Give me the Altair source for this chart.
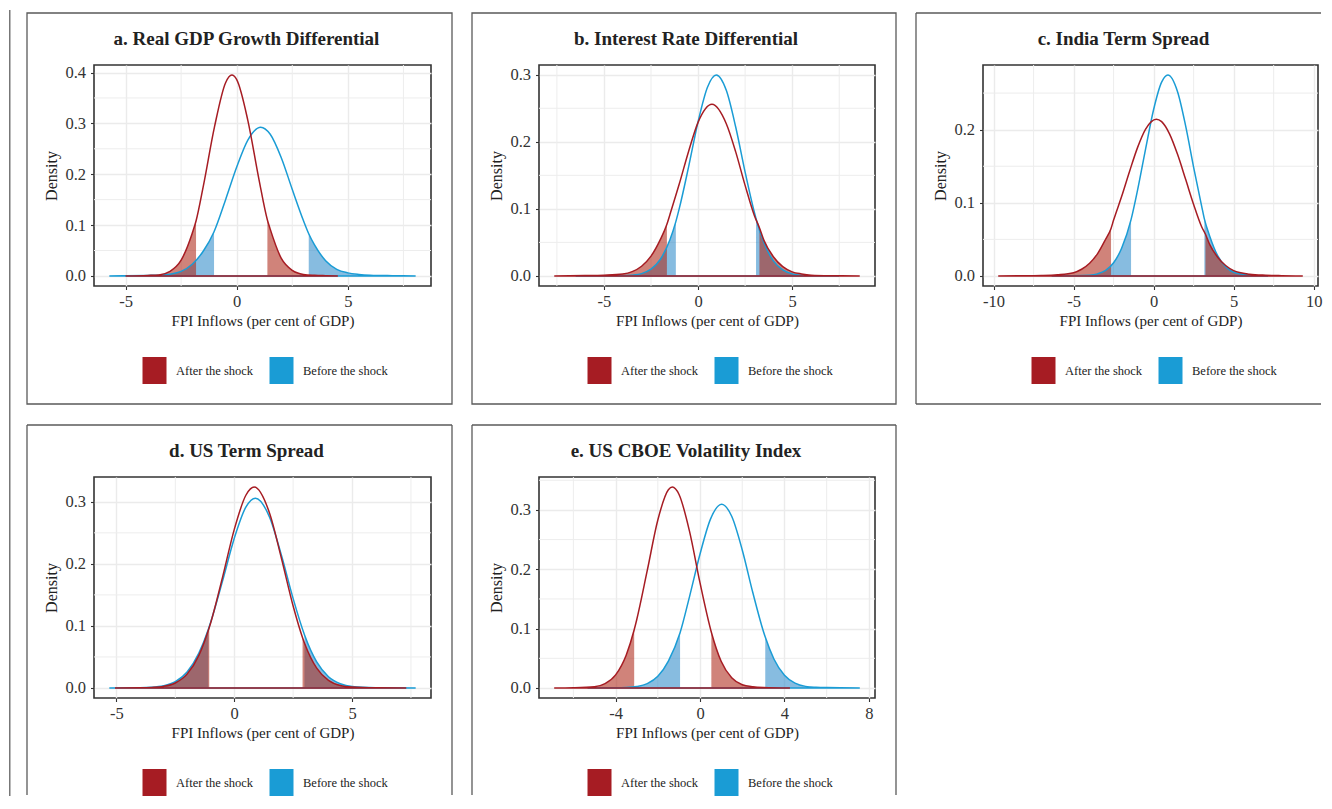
import altair as alt
import pandas as pd

FONT = "Liberation Serif"
SERIES = ["After the shock", "Before the shock"]
LINE_COLORS = ["#A61C23", "#1A9CD5"]
FILL_COLORS = ["#AE2A1A", "#308CCA"]

# ---------------- a. Real GDP Growth Differential ----------------
A_AFTER_X = [-5.0, -4.0, -3.5, -3.0, -2.5, -2.0, -1.83, -1.5, -1.0, -0.5, -0.22, 0.0, 0.5, 1.0, 1.38, 1.5, 2.0, 2.5, 3.0, 3.5, 4.0, 4.55]
A_AFTER_Y = [0.0, 0.001, 0.002, 0.009, 0.031, 0.084, 0.108, 0.177, 0.293, 0.380, 0.395, 0.386, 0.306, 0.190, 0.110, 0.093, 0.035, 0.011, 0.003, 0.0012, 0.0005, 0.0]
A_AFTER_TAILS = [-1.83, 1.38]
A_BEFORE_X = [-5.73, -5.0, -4.0, -3.5, -3.0, -2.5, -2.0, -1.5, -1.02, -0.5, 0.0, 0.5, 1.08, 1.5, 2.0, 2.5, 3.0, 3.24, 3.5, 4.0, 4.5, 5.0, 5.5, 6.0, 7.0, 8.05]
A_BEFORE_Y = [0.0, 0.0003, 0.001, 0.0015, 0.0035, 0.009, 0.023, 0.049, 0.087, 0.150, 0.214, 0.267, 0.2925, 0.279, 0.233, 0.170, 0.109, 0.083, 0.061, 0.030, 0.013, 0.006, 0.003, 0.0015, 0.0005, 0.0]
A_BEFORE_TAILS = [-1.02, 3.24]

# ---------------- b. Interest Rate Differential ----------------
B_AFTER_X = [-7.64, -6.0, -5.0, -4.0, -3.5, -3.0, -2.5, -2.0, -1.655, -1.5, -1.0, -0.5, 0.0, 0.74, 1.5, 2.0, 2.5, 3.0, 3.26, 3.5, 4.0, 4.5, 5.0, 5.5, 6.0, 7.0, 8.59]
B_AFTER_Y = [0.0, 0.0005, 0.0012, 0.003, 0.0065, 0.0145, 0.0295, 0.0545, 0.077, 0.091, 0.137, 0.186, 0.229, 0.256, 0.227, 0.185, 0.135, 0.0895, 0.072, 0.053, 0.0287, 0.0139, 0.0061, 0.003, 0.0012, 0.0003, 0.0]
B_AFTER_TAILS = [-1.655, 3.26]
B_BEFORE_X = [-6.5, -5.0, -4.0, -3.5, -3.0, -2.5, -2.0, -1.5, -1.18, -1.0, -0.5, 0.0, 0.5, 0.97, 1.5, 2.0, 2.5, 3.0, 3.08, 3.5, 4.0, 4.5, 5.0, 5.5, 6.0, 7.5]
B_BEFORE_Y = [0.0, 0.0001, 0.0003, 0.0011, 0.0035, 0.0101, 0.0249, 0.0536, 0.081, 0.1003, 0.163, 0.2298, 0.2814, 0.2995, 0.2767, 0.222, 0.1548, 0.0938, 0.0854, 0.0494, 0.0225, 0.009, 0.0031, 0.001, 0.0003, 0.0]
B_BEFORE_TAILS = [-1.18, 3.08]

# ---------------- c. India Term Spread ----------------
C_AFTER_X = [-9.71, -8.0, -7.0, -6.0, -5.0, -4.5, -4.0, -3.5, -3.0, -2.66, -2.5, -2.0, -1.5, -1.0, -0.5, 0.17, 0.5, 1.0, 1.5, 2.0, 2.5, 3.0, 3.24, 3.5, 4.0, 4.5, 5.0, 6.0, 7.0, 8.0, 9.32]
C_AFTER_Y = [0.0, 0.0003, 0.0006, 0.0016, 0.0045, 0.0092, 0.0174, 0.0306, 0.0502, 0.065, 0.0764, 0.1085, 0.1432, 0.1758, 0.2008, 0.2143, 0.211, 0.194, 0.1659, 0.1321, 0.0977, 0.0673, 0.057, 0.0432, 0.0257, 0.0143, 0.0074, 0.0025, 0.001, 0.0004, 0.0]
C_AFTER_TAILS = [-2.66, 3.24]
C_BEFORE_X = [-6.37, -5.0, -4.0, -3.5, -3.0, -2.5, -2.0, -1.41, -1.0, -0.5, 0.0, 0.5, 0.89, 1.5, 2.0, 2.5, 3.0, 3.17, 3.5, 4.0, 4.5, 5.0, 6.0, 7.15]
C_BEFORE_Y = [0.0, 0.0002, 0.001, 0.0029, 0.0076, 0.018, 0.0379, 0.077, 0.1177, 0.1738, 0.2276, 0.265, 0.2747, 0.2515, 0.2051, 0.1485, 0.0956, 0.078, 0.0547, 0.0277, 0.0125, 0.005, 0.001, 0.0]
C_BEFORE_TAILS = [-1.41, 3.17]

# ---------------- d. US Term Spread ----------------
D_AFTER_X = [-5.06, -4.0, -3.5, -3.0, -2.5, -2.0, -1.5, -1.06, -1.0, -0.5, 0.0, 0.5, 0.85, 1.5, 2.0, 2.5, 2.9, 3.0, 3.5, 4.0, 4.5, 5.0, 6.0, 7.3]
D_AFTER_Y = [0.0, 0.0002, 0.0008, 0.0025, 0.008, 0.0223, 0.0525, 0.0974, 0.1048, 0.1777, 0.2552, 0.311, 0.3238, 0.2817, 0.2095, 0.1321, 0.0811, 0.0706, 0.032, 0.0123, 0.004, 0.0015, 0.0003, 0.0]
D_AFTER_TAILS = [-1.06, 2.9]
D_BEFORE_X = [-5.3, -4.0, -3.5, -3.0, -2.5, -2.0, -1.5, -1.1, -1.0, -0.5, 0.0, 0.5, 0.9, 1.5, 2.0, 2.5, 2.98, 3.0, 3.5, 4.0, 4.5, 5.0, 6.0, 7.7]
D_BEFORE_Y = [0.0, 0.0003, 0.001, 0.0035, 0.0102, 0.0258, 0.0563, 0.0943, 0.1059, 0.1718, 0.241, 0.2919, 0.3059, 0.2752, 0.2142, 0.144, 0.0857, 0.0836, 0.0419, 0.0181, 0.0068, 0.0022, 0.0004, 0.0]
D_BEFORE_TAILS = [-1.1, 2.98]

# ---------------- e. US CBOE Volatility Index ----------------
E_AFTER_X = [-6.91, -6.0, -5.0, -4.5, -4.0, -3.5, -3.12, -3.0, -2.5, -2.0, -1.5, -1.31, -1.0, -0.5, 0.0, 0.536, 1.0, 1.5, 2.0, 2.5, 3.0, 4.26]
E_AFTER_Y = [0.0, 0.0004, 0.002, 0.0072, 0.022, 0.0552, 0.098, 0.115, 0.198, 0.283, 0.334, 0.3386, 0.3265, 0.2643, 0.177, 0.094, 0.045, 0.0171, 0.0054, 0.002, 0.0008, 0.0]
E_AFTER_TAILS = [-3.12, 0.536]
E_BEFORE_X = [-5.33, -4.0, -3.5, -3.0, -2.5, -2.0, -1.5, -0.946, -0.5, 0.0, 0.5, 1.025, 1.5, 2.0, 2.5, 3.0, 3.09, 3.5, 4.0, 4.5, 5.0, 5.5, 6.0, 7.57]
E_BEFORE_Y = [0.0, 0.0002, 0.0006, 0.0023, 0.0073, 0.0196, 0.0454, 0.093, 0.1536, 0.2257, 0.285, 0.3097, 0.2893, 0.2326, 0.1608, 0.0956, 0.0857, 0.0489, 0.0215, 0.0081, 0.0027, 0.0012, 0.0006, 0.0]
E_BEFORE_TAILS = [-0.946, 3.09]

TITLES = ["a. Real GDP Growth Differential", "b. Interest Rate Differential", "c. India Term Spread",
          "d. US Term Spread", "e. US CBOE Volatility Index"]
X_DOMAINS = [[-6.42, 8.74], [-8.45, 9.40], [-10.66, 10.27], [-5.95, 8.35], [-7.63, 8.29]]
Y_DOMAINS = [[-0.0198, 0.4148], [-0.015, 0.3145], [-0.0137, 0.2884], [-0.0162, 0.34], [-0.0169, 0.3555]]
X_TICKS = [[-5, 0, 5], [-5, 0, 5], [-10, -5, 0, 5, 10], [-5, 0, 5], [-4, 0, 4, 8]]
Y_TICKS = [[0, 0.1, 0.2, 0.3, 0.4], [0, 0.1, 0.2, 0.3], [0, 0.1, 0.2], [0, 0.1, 0.2, 0.3], [0, 0.1, 0.2, 0.3]]
X_MINOR = [[-2.5, 2.5, 7.5], [-7.5, -2.5, 2.5, 7.5], [-7.5, -2.5, 2.5, 7.5], [-2.5, 2.5, 7.5], [-6, -2, 2, 6]]
Y_MINOR = [[0.05, 0.15, 0.25, 0.35], [0.05, 0.15, 0.25], [0.05, 0.15, 0.25], [0.05, 0.15, 0.25], [0.05, 0.15, 0.25, 0.35]]

CURVES = [
    ((A_AFTER_X, A_AFTER_Y, A_AFTER_TAILS), (A_BEFORE_X, A_BEFORE_Y, A_BEFORE_TAILS)),
    ((B_AFTER_X, B_AFTER_Y, B_AFTER_TAILS), (B_BEFORE_X, B_BEFORE_Y, B_BEFORE_TAILS)),
    ((C_AFTER_X, C_AFTER_Y, C_AFTER_TAILS), (C_BEFORE_X, C_BEFORE_Y, C_BEFORE_TAILS)),
    ((D_AFTER_X, D_AFTER_Y, D_AFTER_TAILS), (D_BEFORE_X, D_BEFORE_Y, D_BEFORE_TAILS)),
    ((E_AFTER_X, E_AFTER_Y, E_AFTER_TAILS), (E_BEFORE_X, E_BEFORE_Y, E_BEFORE_TAILS)),
]

# layout (pixels)
WIDTHS = [337, 336, 335, 337, 336]
HEIGHT = 221
TITLE_DX = [-16, -21, -27, -16, -21]
BOX_COLOR = "#5a5a5a"
LEG_PATH = "M-0.889,-1H0.889V1H-0.889Z"


def curve_frame(xs, ys, tails, name):
    lo, hi = tails
    parts = ["left" if x <= lo else ("right" if x >= hi else "mid") for x in xs]
    return pd.DataFrame({"x": xs, "y": ys, "part": parts, "series": name})


def panel(i):
    w = WIDTHS[i]
    (after, before) = CURVES[i]
    df = pd.concat([curve_frame(*after, SERIES[0]), curve_frame(*before, SERIES[1])], ignore_index=True)

    xscale = alt.Scale(domain=X_DOMAINS[i], nice=False, zero=False)
    yscale = alt.Scale(domain=Y_DOMAINS[i], nice=False, zero=False)
    xaxis = alt.Axis(values=X_TICKS[i], title="FPI Inflows (per cent of GDP)", labelExpr="'' + datum.value",
                     grid=True, gridColor="#EBEBEB", gridWidth=1.4, domain=False,
                     tickColor="#333333", tickSize=3.5, tickWidth=1.1,
                     labelFont=FONT, labelFontSize=16.5, labelColor="#333333", labelPadding=4,
                     labelFlush=False, labelOverlap=False,
                     titleFont=FONT, titleFontSize=15, titleFontWeight="normal", titleColor="#222222",
                     titlePadding=3)
    yaxis = alt.Axis(values=Y_TICKS[i], format=".1f", title="Density",
                     grid=True, gridColor="#EBEBEB", gridWidth=1.4, domain=False,
                     tickColor="#333333", tickSize=3.5, tickWidth=1.1,
                     labelFont=FONT, labelFontSize=16.5, labelColor="#333333", labelPadding=5,
                     labelFlush=False, labelOverlap=False,
                     titleFont=FONT, titleFontSize=16, titleFontWeight="normal", titleColor="#222222",
                     titlePadding=5)
    X = alt.X("x:Q", scale=xscale, axis=xaxis)
    Y = alt.Y("y:Q", scale=yscale, axis=yaxis)
    Yns = alt.Y("y:Q", scale=yscale, axis=yaxis, stack=None)

    minor_x = alt.Chart(pd.DataFrame({"x": X_MINOR[i]})).mark_rule(color="#EDEDED", strokeWidth=1.0).encode(x=X)
    minor_y = alt.Chart(pd.DataFrame({"y": Y_MINOR[i]})).mark_rule(color="#EDEDED", strokeWidth=1.0).encode(y=Y)

    base = alt.Chart(df)
    layers = [minor_x, minor_y]
    # tails: blue first, red on top
    for s_idx in (1, 0):
        layers.append(
            base.transform_filter(alt.datum.series == SERIES[s_idx])
            .transform_filter(alt.datum.part != "mid")
            .mark_area(color=FILL_COLORS[s_idx], opacity=0.58, interpolate="monotone")
            .encode(x=X, y=Yns, detail="part:N")
        )
    for s_idx in (1, 0):
        layers.append(
            base.transform_filter(alt.datum.series == SERIES[s_idx])
            .mark_area(fillOpacity=0, stroke=LINE_COLORS[s_idx], strokeWidth=1.5, interpolate="monotone")
            .encode(x=X, y=Yns)
        )
    # legend carrier (invisible points)
    legend = alt.Legend(orient="none", legendX=47, legendY=292, direction="horizontal", title=None,
                        symbolType=LEG_PATH, symbolSize=729, symbolOpacity=1, symbolStrokeWidth=0,
                        labelFont=FONT, labelFontSize=12.5, labelColor="#222222", labelOffset=8,
                        columnPadding=14, padding=0)
    layers.append(
        alt.Chart(pd.DataFrame({"series": SERIES})).mark_point(filled=True, opacity=0, shape=LEG_PATH)
        .encode(color=alt.Color("series:N", scale=alt.Scale(domain=SERIES, range=LINE_COLORS), legend=legend))
    )
    one = alt.Chart(pd.DataFrame({"d": [0]}))
    # panel title
    layers.append(one.mark_text(font=FONT, fontSize=19, fontWeight="bold", color="#222222",
                                align="center", baseline="middle").encode(
        x=alt.value(w / 2 + TITLE_DX[i]), y=alt.value(-26), text=alt.value(TITLES[i])))
    # panel frame box (decoration)
    left, top = -67, -52
    right = w + 21
    bottom = HEIGHT + 118 if i < 3 else 318
    rule_style = dict(color=BOX_COLOR, strokeWidth=1.3)
    if i in (0, 1):
        layers.append(one.mark_rect(fillOpacity=0, stroke=BOX_COLOR, strokeWidth=1.3).encode(
            x=alt.value(left), x2=alt.value(right), y=alt.value(top), y2=alt.value(bottom)))
    elif i == 2:
        r_end = 338
        layers.append(one.mark_rule(**rule_style).encode(x=alt.value(left), y=alt.value(top), y2=alt.value(bottom)))
        layers.append(one.mark_rule(**rule_style).encode(x=alt.value(left), x2=alt.value(r_end), y=alt.value(top)))
        layers.append(one.mark_rule(**rule_style).encode(x=alt.value(left), x2=alt.value(r_end), y=alt.value(bottom)))
    else:
        layers.append(one.mark_rule(**rule_style).encode(x=alt.value(left), y=alt.value(top), y2=alt.value(bottom)))
        layers.append(one.mark_rule(**rule_style).encode(x=alt.value(left), x2=alt.value(right), y=alt.value(top)))
        layers.append(one.mark_rule(**rule_style).encode(x=alt.value(right), y=alt.value(top), y2=alt.value(bottom)))
    if i == 0:
        # page edge line at far left
        layers.append(one.mark_rule(color="#777777", strokeWidth=1.5).encode(
            x=alt.value(-84.25), y=alt.value(-55), y2=alt.value(731)))

    return alt.layer(*layers).properties(width=w, height=HEIGHT)


chart = alt.concat(*[panel(i) for i in range(5)], columns=3, bounds="flush",
                   spacing={"row": 191, "column": 108}).resolve_scale(
    color="independent", x="independent", y="independent").resolve_legend(color="independent").properties(
    padding=0).configure(font=FONT, background="white").configure_view(stroke="#333333", strokeWidth=1.6)

chart.save("out.html", embed_options={"renderer": "svg", "actions": False})
